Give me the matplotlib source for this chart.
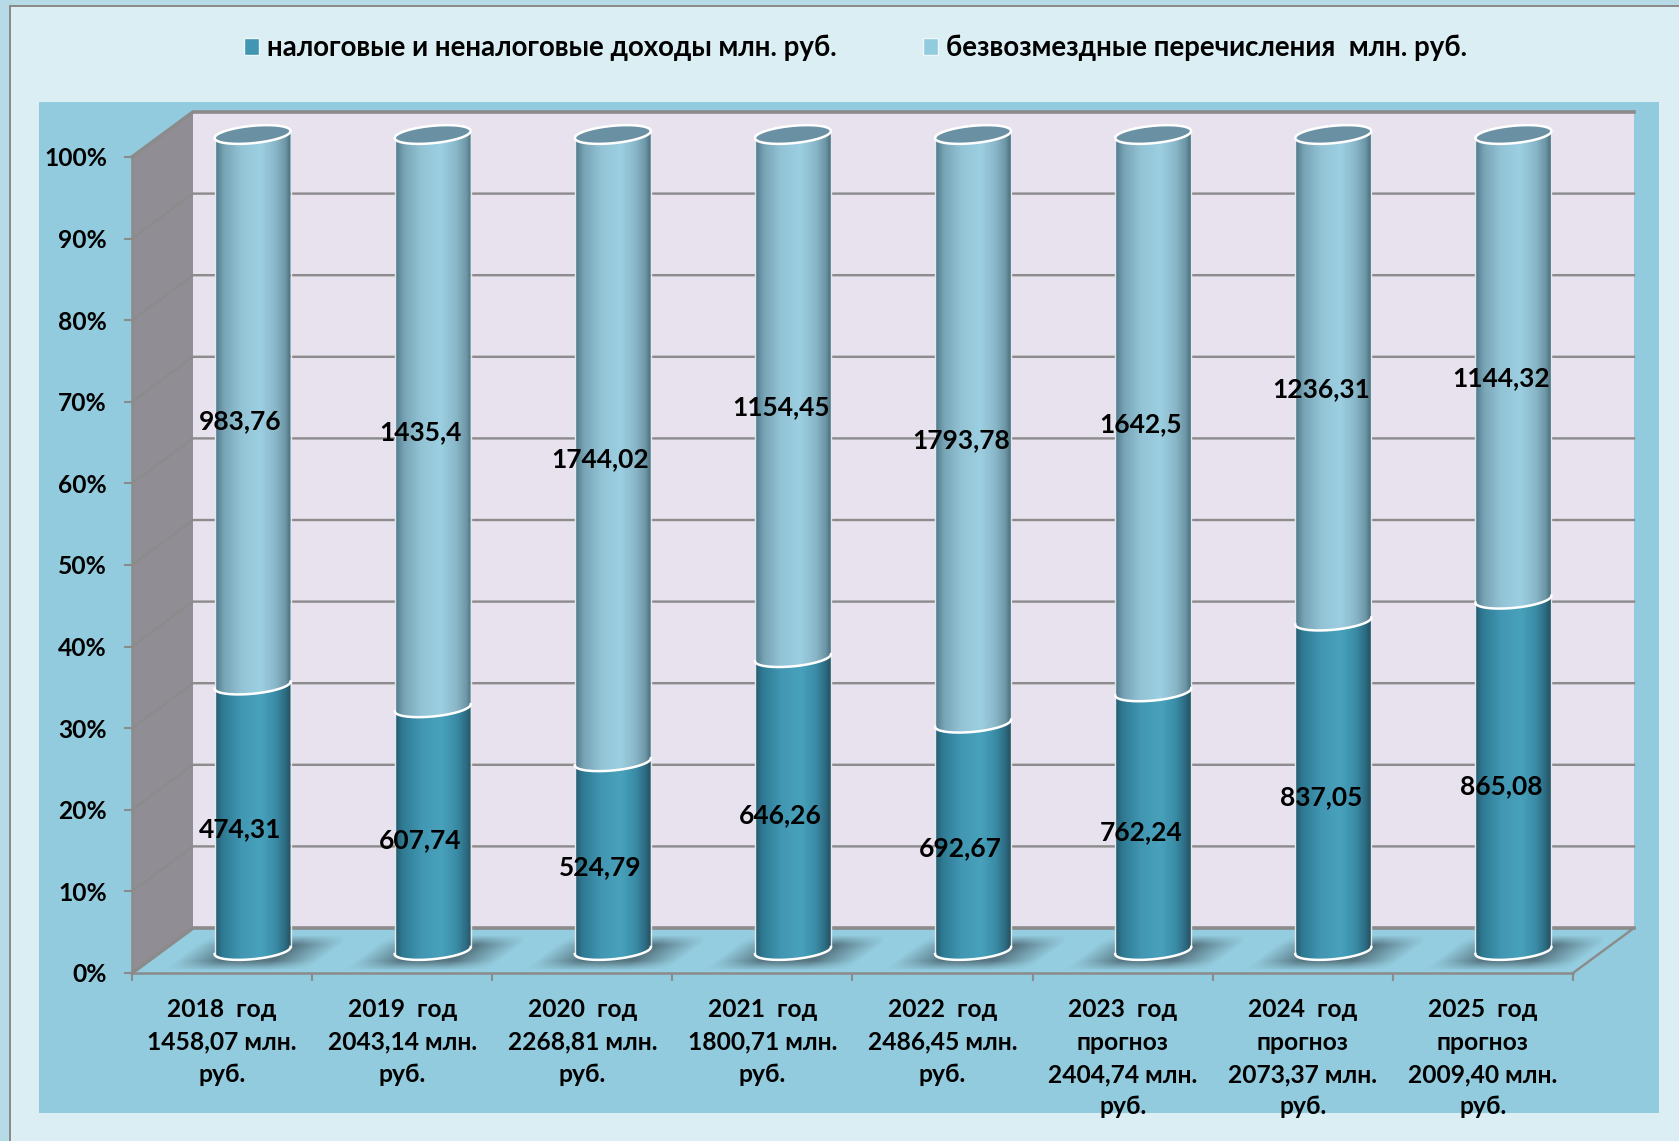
import numpy as np
import matplotlib
matplotlib.use('Agg')
import matplotlib.pyplot as plt
from matplotlib.colors import LinearSegmentedColormap
from matplotlib.patches import Patch, PathPatch, Rectangle
from matplotlib.path import Path

plt.rcParams['font.family'] = ['Lato', 'Open Sans', 'DejaVu Sans']
plt.rcParams['font.weight'] = 'bold'

categories = ['2018  год\n1458,07 млн.\nруб.', '2019  год\n2043,14 млн.\nруб.',
              '2020  год\n2268,81 млн.\nруб.', '2021  год\n1800,71 млн.\nруб.',
              '2022  год\n2486,45 млн.\nруб.', '2023  год\nпрогноз\n2404,74 млн.\nруб.',
              '2024  год\nпрогноз\n2073,37 млн.\nруб.', '2025  год\nпрогноз\n2009,40 млн.\nруб.']
own_income = [474.31, 607.74, 524.79, 646.26, 692.67, 762.24, 837.05, 865.08]
transfers = [983.76, 1435.4, 1744.02, 1154.45, 1793.78, 1642.5, 1236.31, 1144.32]
own_labels = ['474,31', '607,74', '524,79', '646,26', '692,67', '762,24', '837,05', '865,08']
transfer_labels = ['983,76', '1435,4', '1744,02', '1154,45', '1793,78', '1642,5', '1236,31', '1144,32']
y_ticks = [0, 10, 20, 30, 40, 50, 60, 70, 80, 90, 100]
legend_labels = ['налоговые и неналоговые доходы млн. руб.', 'безвозмездные перечисления  млн. руб.']

W, H = 1679, 1141
GREY = '#8b8b8b'

fig = plt.figure(figsize=(W / 100, H / 100), dpi=100, facecolor='#daeef4')


def rect_px(x0, y0, x1, y1, color):
    fig.patches.append(Rectangle((x0 / W, 1 - y1 / H), (x1 - x0) / W, (y1 - y0) / H, zorder=-1,
                                 transform=fig.transFigure, facecolor=color, edgecolor='none'))


# page frame and blue panel
rect_px(0, 0, W, 5, '#b6dbe7')
rect_px(0, 0, 9, H, '#b6dbe7')
rect_px(9, 5, W, 7, GREY)
rect_px(9, 5, 11, H, GREY)
rect_px(39, 102, 1659, 1113, '#92cbdd')

# front plane of the chart
L, R, B, T = 132, 1573, 973, 157
ax = fig.add_axes([L / W, 1 - B / H, (R - L) / W, (B - T) / H])
ax.patch.set_visible(False)

px_x = (R - L) / 8
px_y = (B - T) / 100
depth_x = 61 / px_x
depth_y = 45 / px_y

# walls and floor
ax.fill([0, depth_x, depth_x, 0], [0, depth_y, 100 + depth_y, 100], color='#908e94', clip_on=False, zorder=1, lw=0)
ax.fill([depth_x, 8 + depth_x, 8 + depth_x, depth_x], [depth_y, depth_y, 100 + depth_y, 100 + depth_y],
        color='#e8e2ee', clip_on=False, zorder=1, lw=0)
ax.fill([0, 8, 8 + depth_x, depth_x], [0, 0, depth_y, depth_y], color='#94cddf', clip_on=False, zorder=1, lw=0)

for v in y_ticks:
    ax.plot([0, depth_x, 8 + depth_x], [v, v + depth_y, v + depth_y], color=GREY,
            lw=2.6 if v in (0, 100) else 1.7, clip_on=False, zorder=2, solid_joinstyle='miter')
ax.plot([8, 8 + depth_x], [0, depth_y], color=GREY, lw=1.7, clip_on=False, zorder=2)

dark_cmap = LinearSegmentedColormap.from_list('dark', [(0, '#265a6c'), (0.1, '#2f7a93'), (0.35, '#4297b3'),
                                                       (0.6, '#48a2bc'), (0.8, '#3a8ca6'), (0.93, '#2c6b82'),
                                                       (1, '#264f5e')])
light_cmap = LinearSegmentedColormap.from_list('light', [(0, '#4f7888'), (0.12, '#78a5b6'), (0.35, '#93c4d6'),
                                                         (0.6, '#9ccfe2'), (0.8, '#89b7c8'), (0.93, '#6e96a6'),
                                                         (1, '#4a6e7d')])
grad = np.linspace(0, 1, 256)[None, :]

a = 38 / px_x
b = 8.7 / px_y
tilt = 3.5 / px_y


def arc(cx, cy, t0, t1):
    t = np.linspace(t0, t1, 60)
    return cx + a * np.cos(t), cy - b * np.sin(t) + tilt * np.cos(t)


def shadow(cx_px):
    xs = np.arange(-90, 91)
    ys = np.arange(972, 925, -1)
    gx, gy = np.meshgrid(xs, ys)
    s = gx + (gy - 953) * 1.33 - 5
    alpha = np.clip((72 - np.abs(s)) / 45, 0, 1) * np.clip((18 - np.abs(gy - 953)) / 10, 0, 1)
    rgba = np.zeros(gx.shape + (4,))
    rgba[..., :3] = np.array([0x50, 0x6c, 0x78]) / 255
    rgba[..., 3] = alpha * 0.9
    extent = [(cx_px - 90 - L) / px_x, (cx_px + 90 - L) / px_x, (B - 972) / px_y, (B - 926) / px_y]
    ax.imshow(rgba, extent=extent, origin='lower', aspect='auto', zorder=3, clip_on=False, interpolation='bilinear')


def body(cx, y0, y1, cmap, z):
    x0s, y0s = arc(cx, y0, np.pi, 0)
    x1s, y1s = arc(cx, y1, 0, np.pi)
    verts = np.column_stack([np.r_[x0s, x1s, x0s[0]], np.r_[y0s, y1s, y0s[0]]])
    patch = PathPatch(Path(verts), transform=ax.transData, facecolor='none', edgecolor='none')
    ax.add_patch(patch)
    patch.set_clip_on(False)
    im = ax.imshow(grad, extent=[cx - a, cx + a, y0 - 2 * b, y1 + 2 * b], cmap=cmap, vmin=0, vmax=1,
                   aspect='auto', zorder=z)
    im.set_clip_box(fig.bbox)
    im.set_clip_path(patch)
    # side edges and lower rim
    ax.plot([cx - a, cx - a], [y0 - tilt, y1 - tilt], color='#dfe9ee', lw=1, zorder=z + 0.1, clip_on=False)
    ax.plot([cx + a, cx + a], [y0 + tilt, y1 + tilt], color='#dfe9ee', lw=1, zorder=z + 0.1, clip_on=False)
    ax.plot(x0s, y0s, color='white', lw=1.8, zorder=z + 0.2, clip_on=False)


for i in range(len(categories)):
    total = own_income[i] + transfers[i]
    share = own_income[i] / total * 100
    cx = i + 0.5 + depth_x / 2
    base = depth_y / 2

    shadow(L + cx * px_x)
    body(cx, base, base + share, dark_cmap, 4)
    body(cx, base + share, base + 100, light_cmap, 5)

    ex, ey = arc(cx, base + 100, 0, 2 * np.pi)
    ax.fill(ex, ey, facecolor='#6a91a3', edgecolor='white', lw=1.8, zorder=6, clip_on=False)

    # value labels sit a quarter of the way into the depth
    lx = i + 0.5 + depth_x / 4 + 3 / px_x
    ax.text(lx, share / 2 + depth_y / 4, own_labels[i], ha='center', va='center', fontsize=19,
            color='black', zorder=10, clip_on=False)
    ax.text(lx, share + (100 - share) / 2 + depth_y / 4, transfer_labels[i], ha='center', va='center',
            fontsize=19, color='black', zorder=10, clip_on=False)

ax.set_xlim(0, 8)
ax.set_ylim(0, 100)

for side in ['top', 'right']:
    ax.spines[side].set_visible(False)
for side in ['left', 'bottom']:
    ax.spines[side].set_color(GREY)
    ax.spines[side].set_linewidth(1.8)
    ax.spines[side].set_zorder(2.5)

ax.set_yticks(y_ticks)
ax.set_yticklabels([f'{v}%' for v in y_ticks], fontsize=17.7)
ax.tick_params(axis='y', length=5.5, width=1.5, color=GREY, pad=12.5)
ax.set_xticks(range(9))
ax.set_xticklabels([])
ax.tick_params(axis='x', which='major', length=5.5, width=1.5, color=GREY)
ax.set_xticks(np.arange(8) + 0.5, minor=True)
ax.set_xticklabels(categories, minor=True, fontsize=17.7, linespacing=1.5)
ax.tick_params(axis='x', which='minor', length=0, pad=18)

handles = [Patch(facecolor='#4197b2', edgecolor='#eef7fa', lw=1), Patch(facecolor='#92cbdd', edgecolor='#eef7fa', lw=1)]
fig.legend(handles, legend_labels, loc='center', bbox_to_anchor=(855.5 / W, 1 - 48 / H), ncol=2, frameon=False,
           fontsize=19.9, handlelength=0.55, handleheight=0.6, handletextpad=0.3, columnspacing=3.1)

fig.savefig('out.png', dpi=100, facecolor=fig.get_facecolor())
